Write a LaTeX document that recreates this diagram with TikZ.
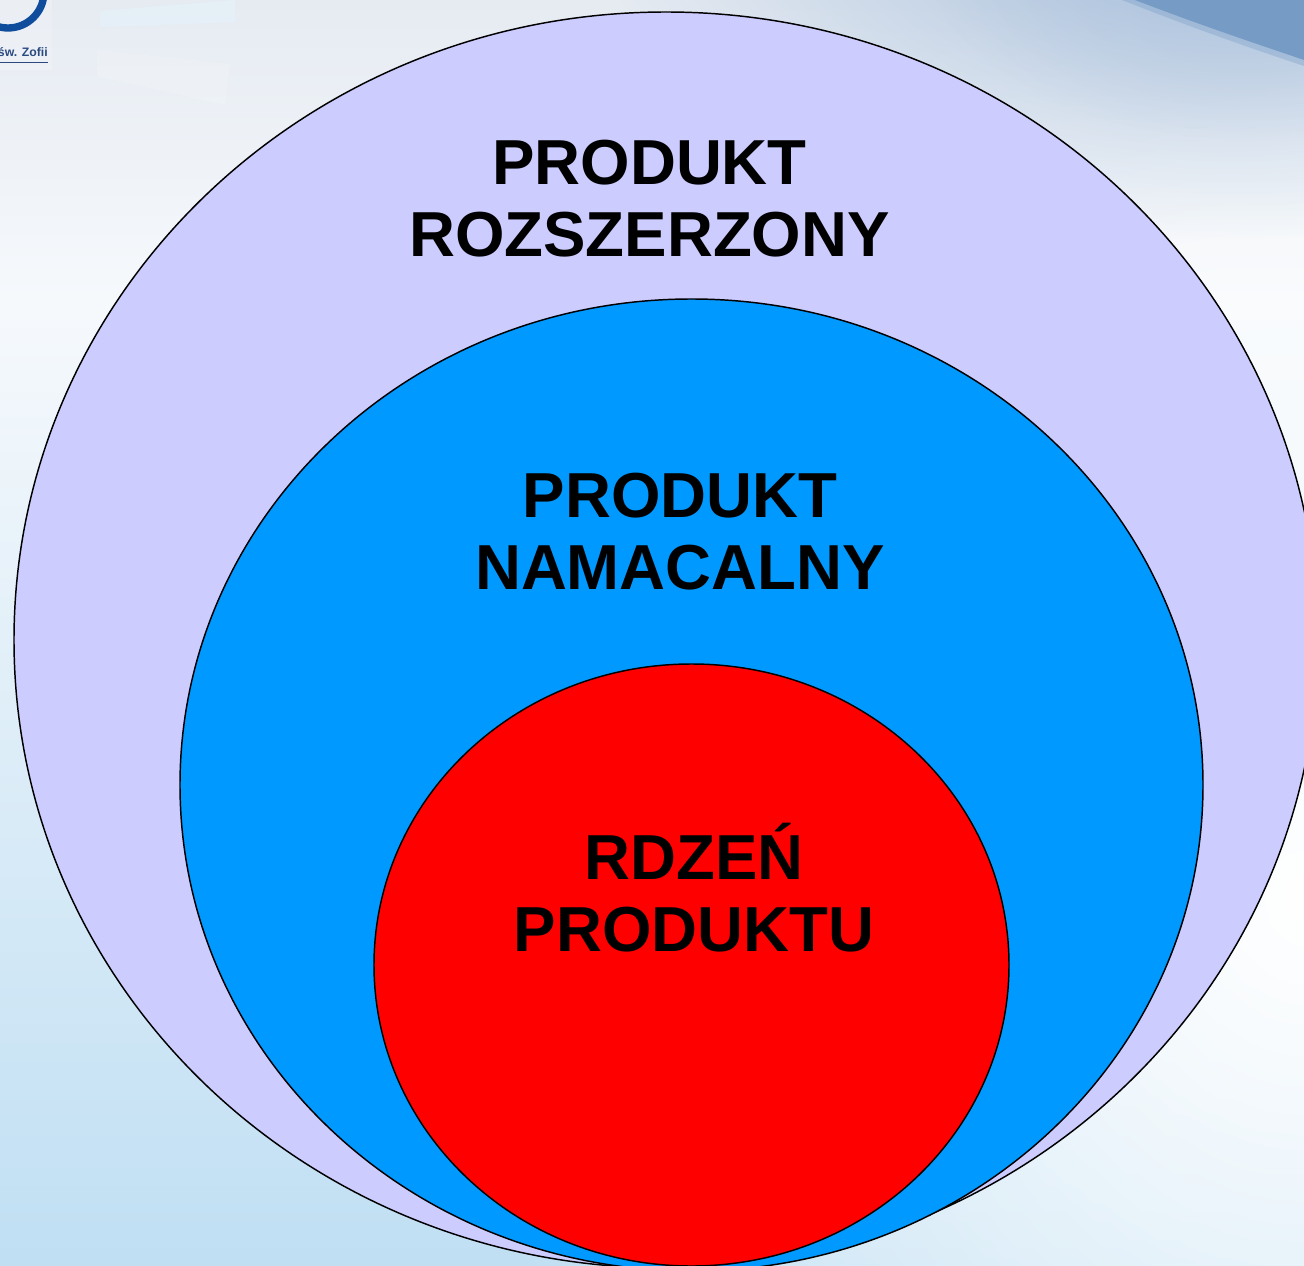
\documentclass[tikz,border=0pt]{standalone}
\usepackage{fontspec}
\setmainfont{Liberation Sans}
\usetikzlibrary{fadings}
\definecolor{lav}{HTML}{CCCCFF}
\definecolor{skyb}{HTML}{0099FF}
\definecolor{bgtop}{HTML}{E6EBF2}
\definecolor{bgmid}{HTML}{F6F9FC}
\definecolor{bgbot}{HTML}{C0DFF3}
\definecolor{bluetop}{HTML}{A3BCDA}
\definecolor{bluedark}{HTML}{769CC6}
\definecolor{logoblue}{HTML}{0F4C9C}
\definecolor{logotext}{HTML}{2A4A80}
\definecolor{patchblue}{HTML}{E4F2FA}
\tikzfading[name=softdisc,inner color=transparent!0,outer color=transparent!100]
\tikzset{
  ring/.style={draw=black,line width=1.1pt},
  lab/.style={font=\bfseries\fontsize{47.7}{54}\selectfont,align=center,text=black,inner sep=0pt},
}
\begin{document}
\begin{tikzpicture}[x=0.75pt,y=-0.75pt]
\useasboundingbox (0,0) rectangle (1304,1266);
\begin{scope}
\clip (0,0) rectangle (1304,1266);
% background
\shade[top color=bgtop,bottom color=bgmid] (0,0) rectangle (1304,300);
\shade[top color=bgmid,bottom color=bgbot] (0,300) rectangle (1304,1266);
\fill[white,path fading=softdisc,fit fading=true] (1304,900) ellipse[x radius=850,y radius=1000];
\fill[bluetop,path fading=softdisc,fit fading=true] (1230,-110) ellipse[x radius=640,y radius=350];
\fill[bluetop,opacity=.55,path fading=softdisc,fit fading=true] (1250,-60) ellipse[x radius=330,y radius=200];
% pale patches
\fill[patchblue,opacity=.6] (100,11) -- (235,0) -- (235,22) -- (100,27) -- cycle;
\fill[white,opacity=.15] (97,50) -- (230,64) -- (225,105) -- (97,76) -- cycle;
\fill[bluedark,opacity=.35] (1122,0) .. controls (1190,27) and (1250,48) .. (1304,66) -- (1304,0) -- cycle;
\fill[bluedark] (1135,0) .. controls (1200,25) and (1260,45) .. (1304,60) -- (1304,0) -- cycle;
% logo
\fill[white,opacity=.2] (0,0) rectangle (52,70);
\draw[logoblue,line width=5.5pt] (8,-8) circle[radius=36];
\node[inner sep=0pt,anchor=east,text=logotext,font=\bfseries\fontsize{9.2}{11}\selectfont] (logotxt) at (48,52) {św. Zofii};
\fill[logotext] (0,62) rectangle (48,63.5);
% circles
\draw[ring,fill=lav] (666,640) ellipse[x radius=652,y radius=628];
\draw[ring,fill=skyb] (691.5,785) ellipse[x radius=511.5,y radius=486];
\draw[ring,fill=red] (691.5,965) ellipse[x radius=317.5,y radius=301];
\end{scope}
\node[lab] (outer) at (649.5,198.5) {PRODUKT\\ROZSZERZONY};
\node[lab] (middle) at (680,531.5) {PRODUKT\\NAMACALNY};
\node[lab] (core) at (694,888) {RDZEŃ\\PRODUKTU};
\end{tikzpicture}
\end{document}
